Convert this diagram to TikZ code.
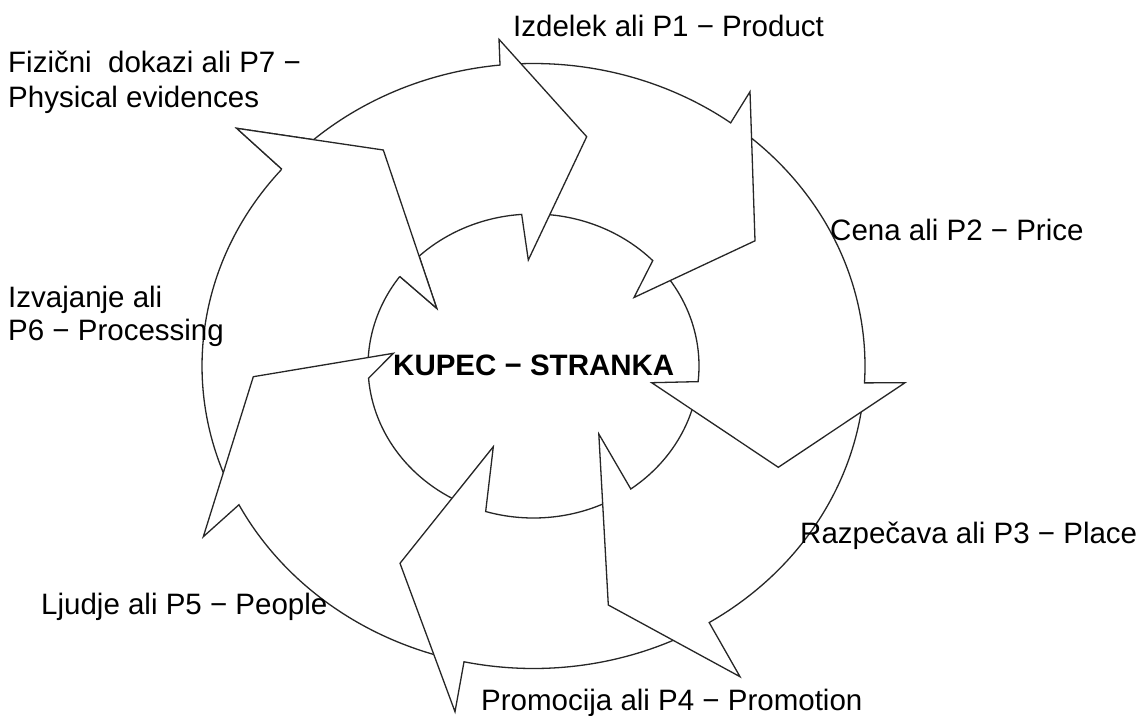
\documentclass[tikz,border=0pt]{standalone}
\usepackage{fontspec}
\setmainfont{Liberation Sans}
\usetikzlibrary{calc}
\tikzset{
  arrowshape/.style={fill=white, draw=black!85, line width=1.3pt, line join=miter},
  headedge/.style={draw=black!85, line width=1.3pt, line join=miter},
  lbl/.style={anchor=base west, inner sep=0pt, font=\fontsize{29.5}{35}\selectfont},
  ctr/.style={anchor=base west, inner sep=0pt, font=\fontsize{29.5}{35}\selectfont\bfseries}
}
% #1 tail angle inner, #2 tail angle outer, #3 outer attach angle,
% #4 outer barb, #5 tip, #6 inner barb, #7 inner attach angle
\newcommand{\cyclearrow}[7]{%
  \draw[arrowshape] ($(O)+(#1:165.5pt and 152pt)$) -- ($(O)+(#2:331.5pt and 302.5pt)$)
    arc[start angle=#2, end angle=#3, x radius=331.5pt, y radius=302.5pt]
    -- (#4) -- (#5) -- (#6) -- ($(O)+(#7:165.5pt and 152pt)$)
    arc[start angle=#7, end angle=#1, x radius=165.5pt, y radius=152pt] -- cycle;}
\begin{document}
\begin{tikzpicture}[x=1pt, y=-1pt]
\fill[white] (0,0) rectangle (1139,715);
\useasboundingbox (0,0) rectangle (1139,715);
\coordinate (O) at (533.5,366);
% arrow heads: outer barb, tip, inner barb
\coordinate (A-ob) at (499,39.3);   \coordinate (A-tip) at (586.7,136.7); \coordinate (A-ib) at (528.3,260);
\coordinate (B-ob) at (750,91.7);   \coordinate (B-tip) at (755,240.8);   \coordinate (B-ib) at (634,297.5);
\coordinate (C-ob) at (905,382.7);  \coordinate (C-tip) at (778.3,467.3); \coordinate (C-ib) at (651.7,382.7);
\coordinate (D-ob) at (740,676.7);  \coordinate (D-tip) at (608.3,605);   \coordinate (D-ib) at (598.8,434);
\coordinate (E-ob) at (455,711.7);  \coordinate (E-tip) at (400,563.3);   \coordinate (E-ib) at (493.3,446.7);
\coordinate (F-ob) at (203.3,536.7);\coordinate (F-tip) at (253.3,376.7); \coordinate (F-ib) at (393.3,353.3);
\coordinate (G-ob) at (236.7,128.3);\coordinate (G-tip) at (383.3,150);   \coordinate (G-ib) at (436.7,308.3);

% drawn so that each head lies over the tail of the next arrow
\cyclearrow{180.55}{203.75}{139.4}{G-ob}{G-tip}{G-ib}{143.9}
\cyclearrow{-113.45}{-104.95}{-152.7}{F-ob}{F-tip}{F-ib}{-175.4}
\cyclearrow{-60}{-61.6}{-102.1}{E-ob}{E-tip}{E-ib}{-106.8}
\cyclearrow{-11.6}{-6.05}{-58}{D-ob}{D-tip}{D-ib}{-54}
\cyclearrow{38.6}{51.25}{-3.2}{C-ob}{C-tip}{C-ib}{-5.9}
\cyclearrow{89.2}{94.25}{53.5}{B-ob}{B-tip}{B-ib}{43.9}
\cyclearrow{138.75}{135.4}{95.8}{A-ob}{A-tip}{A-ib}{94.1}
% head of the last arrow lies over the tail of the first
\fill[white] ($(O)+(139.4:331.5pt and 302.5pt)$) -- (G-ob) -- (G-tip) -- (G-ib) -- ($(O)+(143.9:165.5pt and 152pt)$) -- cycle;
\draw[headedge] ($(O)+(139.4:331.5pt and 302.5pt)$) -- (G-ob) -- (G-tip) -- (G-ib) -- ($(O)+(143.9:165.5pt and 152pt)$);

\node[lbl] (p1) at (513,36.7) {Izdelek ali P1 − Product};
\node[lbl] (p2) at (830,240) {Cena ali P2 − Price};
\node[lbl] (p3) at (800,543) {Razpečava ali P3 − Place};
\node[lbl] (p4) at (481,710) {Promocija ali P4 − Promotion};
\node[lbl] (p5) at (41,614) {Ljudje ali P5 − People};
\node[lbl] (p6a) at (8,307.3) {Izvajanje ali};
\node[lbl] (p6b) at (8,340.7) {P6 − Processing};
\node[lbl] (p7a) at (8,72) {Fizični~~dokazi ali P7 −};
\node[lbl] (p7b) at (8,107) {Physical evidences};
\node[ctr] (kupec) at (393,375) {KUPEC − STRANKA};
\end{tikzpicture}
\end{document}
